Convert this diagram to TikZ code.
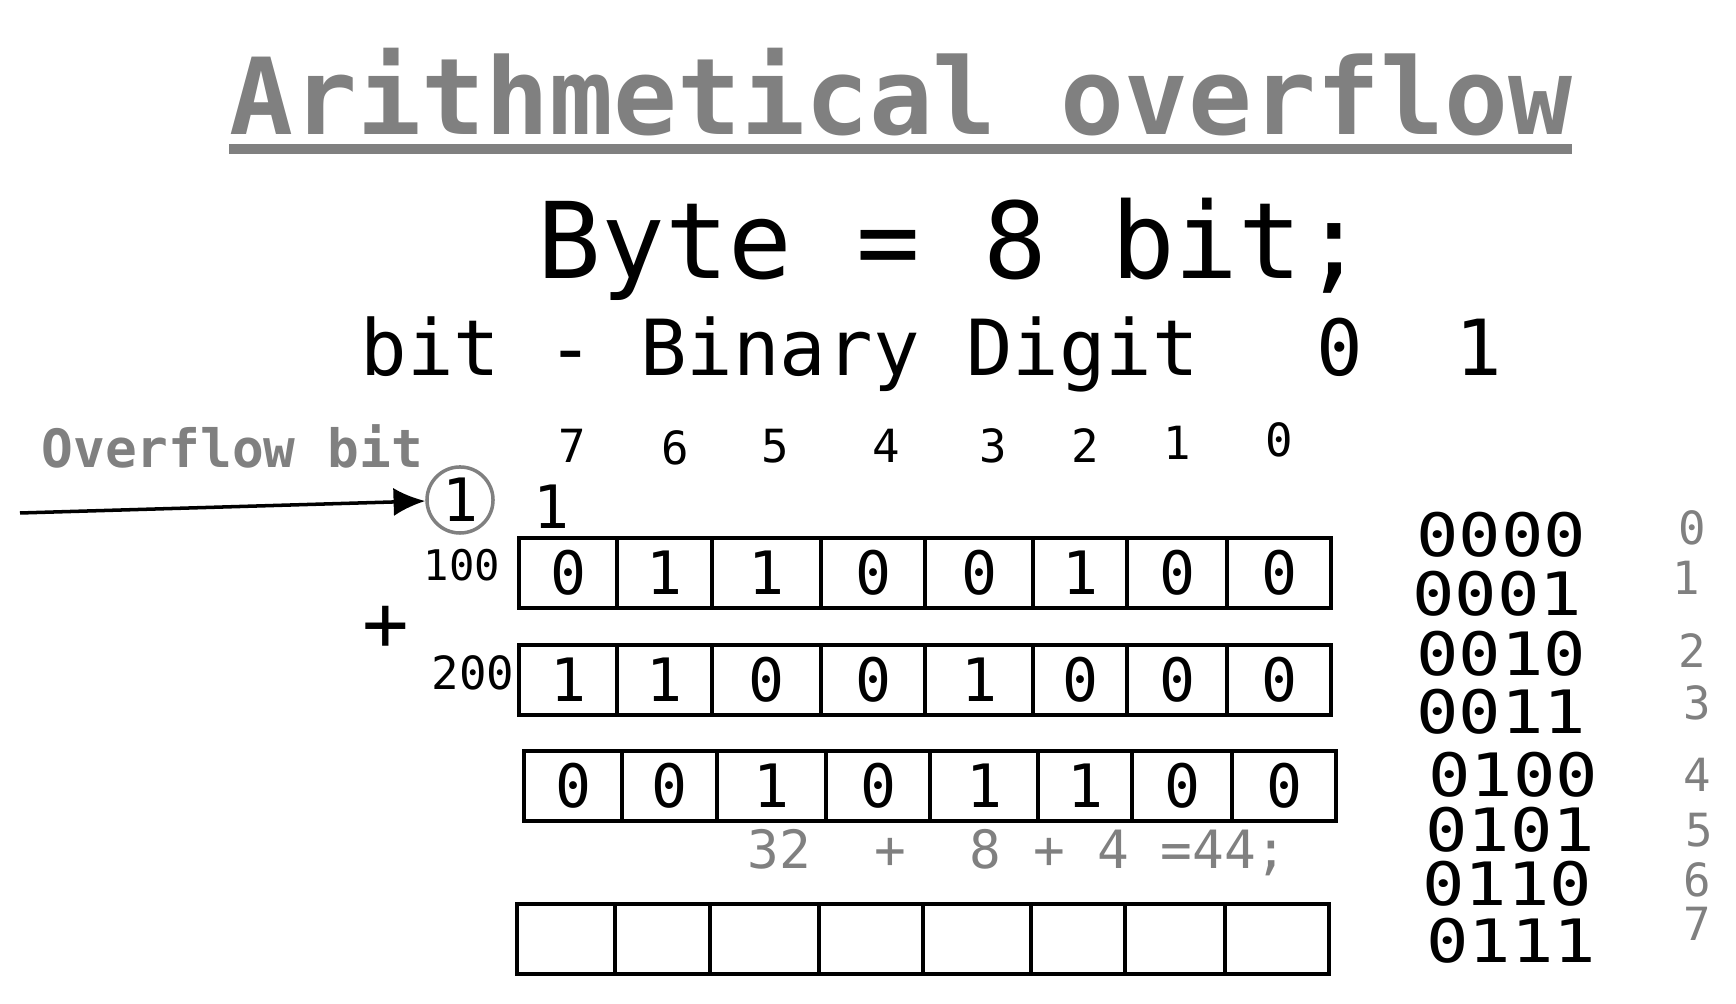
\documentclass[tikz,border=0pt]{standalone}
\usepackage{fontspec}
\setmainfont{DejaVu Sans Mono}
\newfontfamily\widemono[FakeStretch=1.18]{DejaVu Sans Mono}
\usetikzlibrary{arrows.meta,positioning}
\definecolor{chalkgray}{HTML}{808080}

\begin{document}
\begin{tikzpicture}[x=0.01cm, y=-0.01cm]

	\tikzstyle{title}=[inner sep=0, anchor=base west, text=chalkgray, font=\bfseries\fontsize{30.2}{36}\selectfont]
	\tikzstyle{big}=[inner sep=0, anchor=base west, text=black, font=\fontsize{30.1}{36}\selectfont]
	\tikzstyle{mid}=[inner sep=0, anchor=base west, text=black, font=\fontsize{22}{26}\selectfont]
	\tikzstyle{note}=[inner sep=0, anchor=base west, text=chalkgray, font=\bfseries\fontsize{15}{18}\selectfont]
	\tikzstyle{hand}=[inner sep=0, text=black, font=\fontsize{17}{20}\selectfont]
	\tikzstyle{idx}=[inner sep=0, text=black, font=\fontsize{13}{16}\selectfont]
	\tikzstyle{sum}=[inner sep=0, anchor=base west, text=chalkgray, font=\fontsize{15}{18}\selectfont]
	\tikzstyle{ring}=[circle, draw=chalkgray, line width=1pt, minimum size=0.66cm, inner sep=0, text=black, font=\fontsize{17}{20}\selectfont]
	\tikzstyle{cell}=[rectangle, draw, line width=1.3pt, minimum height=0.7cm, inner sep=0, font=\fontsize{17}{20}\selectfont]
	\tikzstyle{c7}=[cell, minimum width=0.98cm]
	\tikzstyle{c6}=[cell, minimum width=0.95cm]
	\tikzstyle{c5}=[cell, minimum width=1.09cm]
	\tikzstyle{c4}=[cell, minimum width=1.04cm]
	\tikzstyle{c3}=[cell, minimum width=1.08cm]
	\tikzstyle{c2}=[cell, minimum width=0.94cm]
	\tikzstyle{c1}=[cell, minimum width=1.00cm]
	\tikzstyle{c0}=[cell, minimum width=1.04cm]
	\tikzstyle{tab}=[inner sep=0, text=black, font=\widemono\fontsize{17}{20}\selectfont]
	\tikzstyle{dec}=[inner sep=0, text=chalkgray, font=\fontsize{13}{16}\selectfont]

	\useasboundingbox (0,0) rectangle (1736,1004);

	% headings
	\node[title] (head) at (229,135) {Arithmetical overflow};
	\fill[chalkgray] (229,144) rectangle (1572,154);
	\node[big] (byte) at (537,279) {Byte = 8 bit;};
	\node[mid] (digit) at (360,376) {bit - Binary Digit\ \ \hspace{0.24cm}0\ \ 1};

	% overflow bit
	\node[note] (ovl) at (41,468) {Overflow bit};
	\node[ring] (ov) at (460,500) {1};
	\coordinate (ovs) at (20,513);
	\draw[-{Latex[length=9pt, width=8pt]}, line width=1pt, black] (ovs) -- (ov);
	\node[hand] (carry) at (551,507) {1};

	% bit numbers
	\node[idx] (l7) at (572,446) {7};
	\node[idx] (l6) at (675,448) {6};
	\node[idx] (l5) at (775,446) {5};
	\node[idx] (l4) at (886,446) {4};
	\node[idx] (l3) at (993,446) {3};
	\node[idx] (l2) at (1085,446) {2};
	\node[idx] (l1) at (1177,443) {1};
	\node[idx] (l0) at (1279,440) {0};

	\node[idx, font=\fontsize{12}{14}\selectfont] (n100) at (462,565) {100};
	\node[font=\fontsize{22}{26}\selectfont, inner sep=0] (add) at (386,628) {+};
	\node[idx] (n200) at (473,673) {200};

	% 100
	\node[c7] (a7) at (568,573) {0};
	\node[c6] (a6) at (664.5,573) {1};
	\node[c5] (a5) at (766.5,573) {1};
	\node[c4] (a4) at (873,573) {0};
	\node[c3] (a3) at (979,573) {0};
	\node[c2] (a2) at (1080,573) {1};
	\node[c1] (a1) at (1177,573) {0};
	\node[c0] (a0) at (1279,573) {0};

	% 200
	\node[c7] (b7) at (568,680) {1};
	\node[c6] (b6) at (664.5,680) {1};
	\node[c5] (b5) at (766.5,680) {0};
	\node[c4] (b4) at (873,680) {0};
	\node[c3] (b3) at (979,680) {1};
	\node[c2] (b2) at (1080,680) {0};
	\node[c1] (b1) at (1177,680) {0};
	\node[c0] (b0) at (1279,680) {0};

	% sum
	\node[c7] (s7) at (573,786) {0};
	\node[c6] (s6) at (669.5,786) {0};
	\node[c5] (s5) at (771.5,786) {1};
	\node[c4] (s4) at (878,786) {0};
	\node[c3] (s3) at (984,786) {1};
	\node[c2] (s2) at (1085,786) {1};
	\node[c1] (s1) at (1182,786) {0};
	\node[c0] (s0) at (1284,786) {0};
	\node[sum] (total) at (747,869) {32\ \ +\ \ 8 + 4 =44;};

	% empty byte
	\node[c7] (e7) at (566,939) {};
	\node[c6] (e6) at (662.5,939) {};
	\node[c5] (e5) at (764.5,939) {};
	\node[c4] (e4) at (871,939) {};
	\node[c3] (e3) at (977,939) {};
	\node[c2] (e2) at (1078,939) {};
	\node[c1] (e1) at (1175,939) {};
	\node[c0] (e0) at (1277,939) {};

	% table 0..7
	\node[tab] (t0) at (1501,535) {0000};
	\node[tab] (t1) at (1497,594) {0001};
	\node[tab] (t2) at (1501,654) {0010};
	\node[tab] (t3) at (1501,712) {0011};
	\node[tab] (t4) at (1513,775) {0100};
	\node[tab] (t5) at (1510,830) {0101};
	\node[tab] (t6) at (1507,884) {0110};
	\node[tab] (t7) at (1511,941) {0111};
	\node[dec] (d0) at (1692,528) {0};
	\node[dec] (d1) at (1686,578) {1};
	\node[dec] (d2) at (1692,651) {2};
	\node[dec] (d3) at (1697,703) {3};
	\node[dec] (d4) at (1697,775) {4};
	\node[dec] (d5) at (1699,830) {5};
	\node[dec] (d6) at (1697,880) {6};
	\node[dec] (d7) at (1697,924) {7};

\end{tikzpicture}
\end{document}
